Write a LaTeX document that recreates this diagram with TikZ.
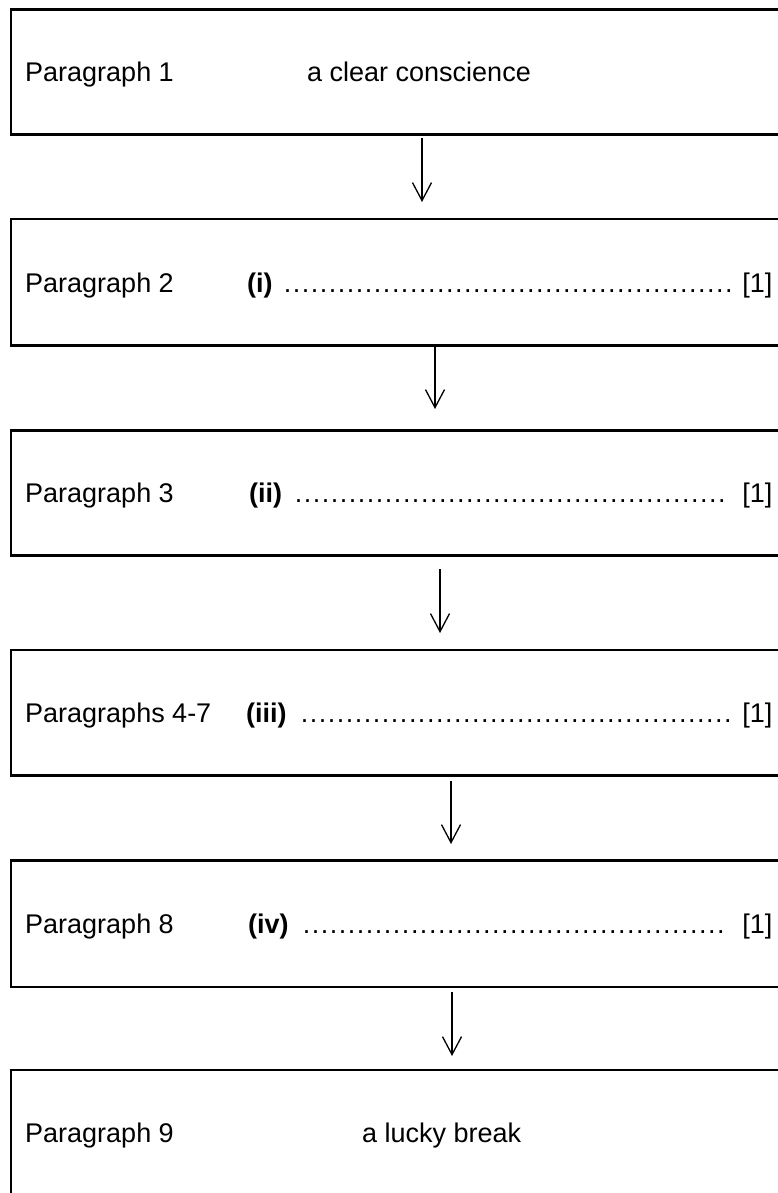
\documentclass[tikz,border=0pt]{standalone}
\usepackage{fontspec}
\setmainfont{Liberation Sans}
\usetikzlibrary{arrows.meta}
\newcommand{\leaderdots}{\leaders\hbox to 9pt{\hss.\hss}\hfill}
\begin{document}
\begin{tikzpicture}[x=1pt,y=1pt,
  pbox/.style={draw, line width=2.5pt, rectangle, minimum width=790pt, anchor=north west, inner sep=0pt, outer sep=0pt},
  lbl/.style={anchor=base west, inner sep=0pt, font=\fontsize{27}{32}\selectfont},
  ans/.style={lbl, text width=525pt, align=left},
  arr/.style={line width=1.3pt, -{Straight Barb[length=18pt,width=19pt]}}]
\useasboundingbox (0,0) rectangle (778,-1193);
\fill[white] (0,0) rectangle (778,-1193);
\clip (0,0) rectangle (778,-1193);
% boxes
\node[pbox, minimum height=125pt]   (b1) at (11,-9.5)  {};
\node[pbox, minimum height=126.5pt] (b2) at (11,-219)  {};
\node[pbox, minimum height=125pt]   (b3) at (11,-430.5){};
\node[pbox, minimum height=125.5pt] (b4) at (11,-650)  {};
\node[pbox, minimum height=126.5pt] (b5) at (11,-860.5){};
\node[pbox, minimum height=126pt]   (b6) at (11,-1070) {};
% texts
\node[lbl] (p1) at (25,-81.7)   {Paragraph 1};
\node[lbl] (t1) at (307,-81.7)  {a clear conscience};
\node[lbl] (p2) at (25,-292)    {Paragraph 2};
\node[ans] (q2) at (247,-292)   {\makebox[525pt][l]{\textbf{(i)}\hspace{7pt}\leaderdots\hspace{8pt}[1]}};
\node[lbl] (p3) at (25,-502.7)  {Paragraph 3};
\node[ans] (q3) at (249,-502.7) {\makebox[523pt][l]{\textbf{(ii)}\hspace{7pt}\leaderdots\hspace{8pt}[1]}};
\node[lbl] (p4) at (25,-722.5)  {Paragraphs 4-7};
\node[ans] (q4) at (246,-722.5) {\makebox[526pt][l]{\textbf{(iii)}\hspace{7pt}\leaderdots\hspace{8pt}[1]}};
\node[lbl] (p5) at (25,-933.5)  {Paragraph 8};
\node[ans] (q5) at (248,-933.5) {\makebox[524pt][l]{\textbf{(iv)}\hspace{7pt}\leaderdots\hspace{8pt}[1]}};
\node[lbl] (p6) at (25,-1142.7) {Paragraph 9};
\node[lbl] (t6) at (362,-1142.7){a lucky break};
% arrow ends
\coordinate (s1) at (422,-138);  \coordinate (e1) at (422,-202);
\coordinate (s2) at (435,-347);  \coordinate (e2) at (435,-409);
\coordinate (s3) at (440,-569);  \coordinate (e3) at (440,-633);
\coordinate (s4) at (451,-781);  \coordinate (e4) at (451,-844);
\coordinate (s5) at (452,-992);  \coordinate (e5) at (452,-1056);
\draw[arr] (s1) -- (e1);
\draw[arr] (s2) -- (e2);
\draw[arr] (s3) -- (e3);
\draw[arr] (s4) -- (e4);
\draw[arr] (s5) -- (e5);
\end{tikzpicture}
\end{document}
